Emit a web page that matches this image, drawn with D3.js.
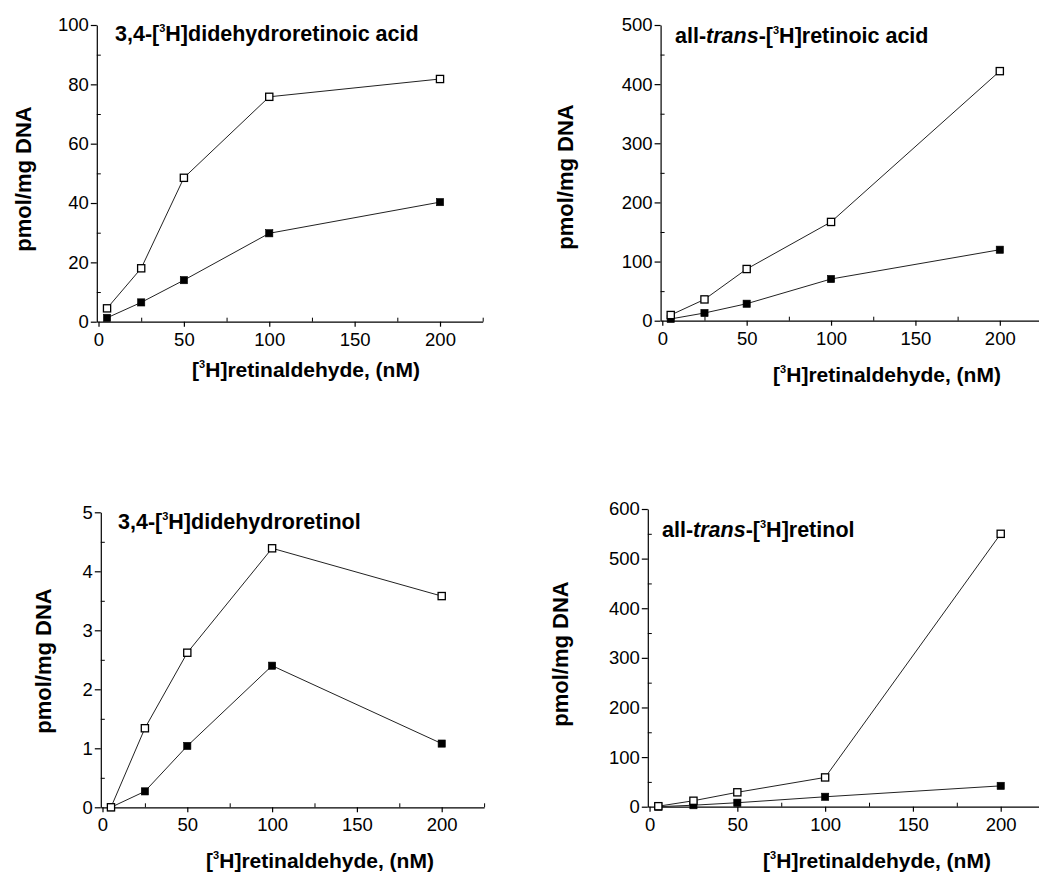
<!DOCTYPE html>
<meta charset="utf-8">
<style>
body { margin: 0; background: #fff; }
svg { display: block; font-family: "Liberation Sans", Arial, sans-serif; }
.tick text { font-size: 18.5px; fill: #000; }
.axis path, .axis line { stroke: #000; stroke-width: 1.2; fill: none; }
.minor path { display: none; }
.minor line { stroke: #000; stroke-width: 1; }
.title, .xlabel, .ylabel { font-weight: bold; fill: #000; }
</style>
<body>
<script src="https://cdn.jsdelivr.net/npm/d3@7"></script>
<script>
// retinaldehyde concentration (nM)
var conc = [5, 25, 50, 100, 200];

// 3,4-didehydroretinoic acid
var ddraOpen = [4.5, 18, 48.5, 75.8, 81.8];
var ddraFilled = [1.3, 6.5, 14, 29.8, 40.3];
// all-trans retinoic acid
var raOpen = [9.6, 36, 87.4, 167, 422];
var raFilled = [3, 13, 28.7, 70.5, 120];
// 3,4-didehydroretinol
var ddrolOpen = [0, 1.34, 2.62, 4.39, 3.58];
var ddrolFilled = [0, 0.27, 1.04, 2.4, 1.08];
// all-trans retinol
var rolOpen = [1, 12, 29, 59, 550];
var rolFilled = [0, 3, 8, 20, 42];

var xTicks = [0, 50, 100, 150, 200];
var xMinor = [25, 75, 125, 175, 225];
var yTicks1 = [0, 20, 40, 60, 80, 100];
var yTicks2 = [0, 100, 200, 300, 400, 500];
var yTicks3 = [0, 1, 2, 3, 4, 5];
var yTicks4 = [0, 100, 200, 300, 400, 500, 600];

var svg = d3.select("body").append("svg")
    .attr("width", 1039)
    .attr("height", 873);

var panels = [
  {open: ddraOpen, filled: ddraFilled, yTicks: yTicks1, yStep: 10,
   left: 96.8, right: 482.7, top: 25, bottom: 321.7,
   title: ["3,4-[", "3", "H]didehydroretinoic acid"], tx: 115, ty: 41,
   ylx: 31, yly: 179, xlx: 306, xly: 377},
  {open: raOpen, filled: raFilled, yTicks: yTicks2, yStep: 50,
   left: 660.6, right: 1042, top: 25, bottom: 320.7,
   title: ["all-", "trans", "-[", "3", "H]retinoic acid"], tx: 675, ty: 43,
   ylx: 573, yly: 177, xlx: 887, xly: 382},
  {open: ddrolOpen, filled: ddrolFilled, yTicks: yTicks3, yStep: 0.5,
   left: 100.8, right: 484.1, top: 512.3, bottom: 807.3,
   title: ["3,4-[", "3", "H]didehydroretinol"], tx: 118, ty: 529,
   ylx: 51, yly: 661, xlx: 320, xly: 868},
  {open: rolOpen, filled: rolFilled, yTicks: yTicks4, yStep: 50,
   left: 647.8, right: 1044.6, top: 509, bottom: 806.7,
   title: ["all-", "trans", "-[", "3", "H]retinol"], tx: 662, ty: 537,
   ylx: 568, yly: 654, xlx: 877, xly: 868}
];

function addRich(text, parts, supSize) {
  var pending = 0;
  parts.forEach(function(p) {
    var span = text.append("tspan");
    if (p === "3") {
      span.attr("font-size", supSize).attr("dy", -9).text("3");
      pending = 9;
      return;
    }
    if (pending) { span.attr("dy", pending); pending = 0; }
    if (p === "trans") span.attr("font-style", "italic");
    span.text(p);
  });
}

panels.forEach(function(p) {
  var x = d3.scaleLinear().domain([-1, 225]).range([p.left, p.right]);
  var yMax = p.yTicks[p.yTicks.length - 1];
  var y = d3.scaleLinear().domain([0, yMax]).range([p.bottom, p.top]);
  var yMinor = d3.range(p.yStep, yMax, p.yStep * 2);

  var g = svg.append("g");

  g.append("g").attr("class", "axis")
      .attr("transform", "translate(0," + p.bottom + ")")
      .call(d3.axisBottom(x).tickValues(xTicks).tickFormat(d3.format("d"))
        .tickSize(5).tickSizeOuter(0).tickPadding(6));
  g.append("g").attr("class", "minor")
      .attr("transform", "translate(0," + p.bottom + ")")
      .call(d3.axisBottom(x).tickValues(xMinor).tickSize(-4).tickFormat(""));

  g.append("g").attr("class", "axis")
      .attr("transform", "translate(" + p.left + ",0)")
      .call(d3.axisLeft(y).tickValues(p.yTicks).tickFormat(d3.format("d"))
        .tickSize(6).tickSizeOuter(0).tickPadding(2));
  g.append("g").attr("class", "minor")
      .attr("transform", "translate(" + p.left + ",0)")
      .call(d3.axisLeft(y).tickValues(yMinor).tickSize(-4).tickFormat(""));

  g.selectAll(".tick text").attr("font-family", "Liberation Sans, Arial, sans-serif");

  var line = d3.line()
      .x(function(d, i) { return x(conc[i]); })
      .y(function(d) { return y(d); });

  [p.filled, p.open].forEach(function(series) {
    g.append("path")
        .attr("d", line(series))
        .attr("fill", "none")
        .attr("stroke", "#222")
        .attr("stroke-width", 1);
  });

  [p.filled, p.open].forEach(function(series, k) {
    g.selectAll(null)
        .data(series)
      .enter().append("rect")
        .attr("x", function(d, i) { return x(conc[i]) - 3.6; })
        .attr("y", function(d) { return y(d) - 3.6; })
        .attr("width", 7.2)
        .attr("height", 7.2)
        .attr("fill", k === 0 ? "#000" : "#fff")
        .attr("stroke", "#000")
        .attr("stroke-width", k === 0 ? 0.6 : 1.3);
  });

  var t = g.append("text").attr("class", "title")
      .attr("x", p.tx).attr("y", p.ty)
      .attr("font-size", 21.5);
  addRich(t, p.title, 11);

  var xl = g.append("text").attr("class", "xlabel")
      .attr("x", p.xlx).attr("y", p.xly)
      .attr("text-anchor", "middle")
      .attr("font-size", 21);
  addRich(xl, ["[", "3", "H]retinaldehyde, (nM)"], 11);

  g.append("text").attr("class", "ylabel")
      .attr("transform", "translate(" + p.ylx + "," + p.yly + ") rotate(-90)")
      .attr("text-anchor", "middle")
      .attr("font-size", 22)
      .text("pmol/mg DNA");
});
</script>
